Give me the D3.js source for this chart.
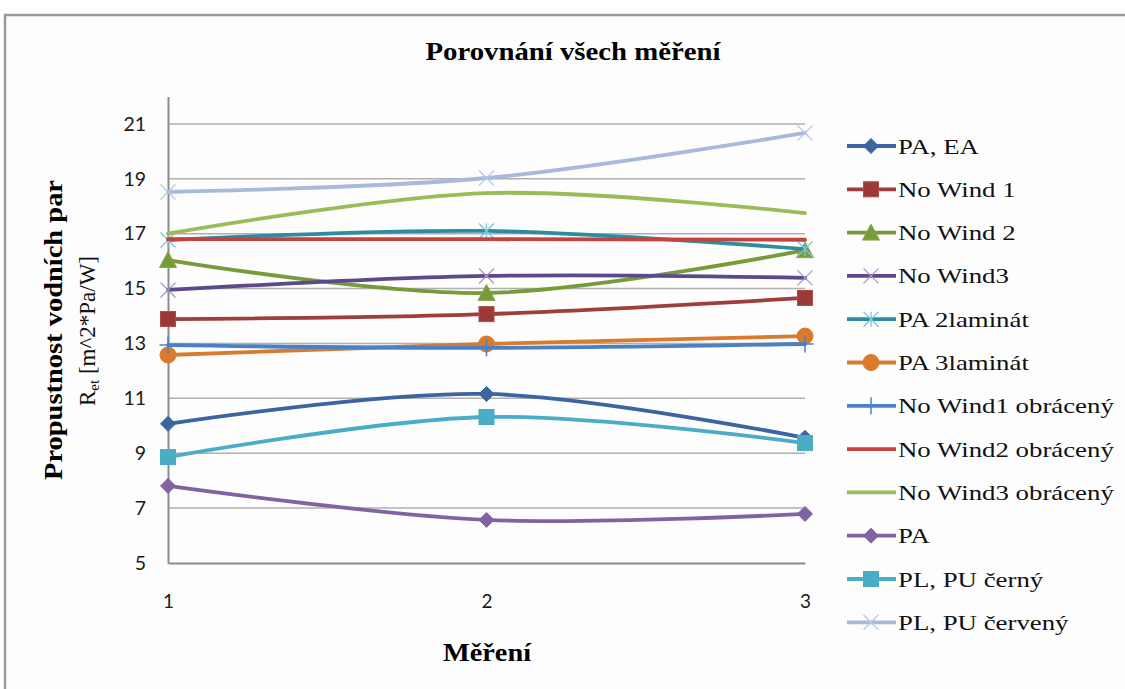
<!DOCTYPE html>
<html>
<head>
<meta charset="utf-8">
<script src="https://cdn.jsdelivr.net/npm/d3@7"></script>
<style>
  html, body { margin: 0; padding: 0; background: #ffffff; }
  svg { display: block; }
  .serif { font-family: "Liberation Serif", "Times New Roman", "DejaVu Serif", serif; }
</style>
</head>
<body>
<svg id="chart" width="1125" height="689"></svg>
<script>
// Measurement rounds on the x axis
const measurements = [1, 2, 3];

// Series names in legend order
const seriesNames = [
  "PA, EA", "No Wind 1", "No Wind 2", "No Wind3", "PA 2laminát", "PA 3laminát",
  "No Wind1 obrácený", "No Wind2 obrácený", "No Wind3 obrácený", "PA",
  "PL, PU černý", "PL, PU červený"
];

// Ret values for each series, one per measurement
const paEa            = [10.07, 11.16, 9.56];
const noWind1         = [13.89, 14.07, 14.66];
const noWind2         = [16.04, 14.84, 16.40];
const noWind3         = [14.95, 15.46, 15.39];
const pa2laminat      = [16.77, 17.10, 16.44];
const pa3laminat      = [12.58, 12.98, 13.27];
const noWind1Obraceny = [12.94, 12.84, 12.98];
const noWind2Obraceny = [16.80, 16.80, 16.78];
const noWind3Obraceny = [17.00, 18.48, 17.75];
const pa              = [7.81, 6.57, 6.79];
const plPuCerny       = [8.86, 10.32, 9.37];
const plPuCerveny     = [18.52, 19.03, 20.67];

const seriesValues = [
  paEa, noWind1, noWind2, noWind3, pa2laminat, pa3laminat,
  noWind1Obraceny, noWind2Obraceny, noWind3Obraceny, pa, plPuCerny, plPuCerveny
];

// Y axis tick labels
const yTicks = [5, 7, 9, 11, 13, 15, 17, 19, 21];

// Line colour, marker type, marker fill and marker stroke per series
const lineColors   = ["#3c64a0", "#a03e3b", "#779a3a", "#5d4989", "#2e8ca1", "#d97a2c",
                      "#4a80c4", "#c4433f", "#9bbb59", "#8064a2", "#4bacc6", "#a7b9dc"];
const markerTypes  = ["diamond", "square", "triangle", "x", "star", "circle",
                      "plus", "none", "none", "diamond", "square", "x"];
const markerFills  = ["#3c64a0", "#9a3a37", "#779a3a", "none", "none", "#d97a2c",
                      "none", "none", "none", "#8064a2", "#4bacc6", "none"];
const markerStroke = ["#3c64a0", "#b04a46", "#86aa45", "#a696c8", "#7fc4d8", "#d97a2c",
                      "#4a80c4", "none", "none", "#8064a2", "#4bacc6", "#b9c8e6"];

const svg = d3.select("#chart");

// Chart frame
svg.append("rect")
  .attr("x", 5).attr("y", 15).attr("width", 1130).attr("height", 690)
  .attr("fill", "#fdfdfd").attr("stroke", "#9a9a9a").attr("stroke-width", 2.5);

const x = d3.scalePoint().domain(measurements).range([168, 805]);
const y = d3.scaleLinear().domain([5, 22]).range([563, 96.5]);

// Horizontal gridlines
svg.append("g")
  .selectAll("line")
  .data(yTicks.filter(t => t > 5))
  .join("line")
  .attr("x1", x(1)).attr("x2", x(3))
  .attr("y1", d => y(d)).attr("y2", d => y(d))
  .attr("stroke", "#b0b0b0").attr("stroke-width", 1.5);

// Y axis
const yAxis = svg.append("g")
  .attr("transform", `translate(${x(1)},0)`)
  .call(d3.axisLeft(y).tickValues(yTicks).tickSize(0).tickPadding(22).tickFormat(d3.format("d")));
yAxis.select(".domain").attr("stroke", "#8c8c8c").attr("stroke-width", 2);
yAxis.selectAll("text")
  .attr("font-family", "Lato, 'Open Sans', sans-serif")
  .attr("font-size", 19.5).attr("fill", "#1a1a1a");

// X axis
const xAxis = svg.append("g")
  .attr("transform", `translate(0,${y(5)})`)
  .call(d3.axisBottom(x).tickSize(0).tickPadding(32).tickFormat(d3.format("d")));
xAxis.select(".domain").attr("stroke", "#8c8c8c").attr("stroke-width", 2);
xAxis.selectAll("text")
  .attr("font-family", "Lato, 'Open Sans', sans-serif")
  .attr("font-size", 19).attr("fill", "#1a1a1a");

// Marker drawing
function drawMarker(g, type, cx, cy, fill, stroke) {
  const s = 7.5;
  if (type === "diamond") {
    g.append("path")
      .attr("d", `M${cx},${cy - s}L${cx + s},${cy}L${cx},${cy + s}L${cx - s},${cy}Z`)
      .attr("fill", fill).attr("stroke", stroke).attr("stroke-width", 1);
  } else if (type === "square") {
    g.append("rect")
      .attr("x", cx - s).attr("y", cy - s).attr("width", 2 * s).attr("height", 2 * s)
      .attr("fill", fill).attr("stroke", stroke).attr("stroke-width", 1);
  } else if (type === "triangle") {
    g.append("path")
      .attr("d", `M${cx},${cy - s - 1}L${cx + s + 1},${cy + s}L${cx - s - 1},${cy + s}Z`)
      .attr("fill", fill).attr("stroke", stroke).attr("stroke-width", 1);
  } else if (type === "circle") {
    g.append("circle")
      .attr("cx", cx).attr("cy", cy).attr("r", s + 0.5)
      .attr("fill", fill).attr("stroke", stroke).attr("stroke-width", 1);
  } else if (type === "x" || type === "star") {
    g.append("path")
      .attr("d", `M${cx - s},${cy - s}L${cx + s},${cy + s}M${cx - s},${cy + s}L${cx + s},${cy - s}` +
                 (type === "star" ? `M${cx},${cy - s}L${cx},${cy + s}` : ""))
      .attr("fill", "none").attr("stroke", stroke).attr("stroke-width", 1.3);
  } else if (type === "plus") {
    g.append("path")
      .attr("d", `M${cx},${cy - s - 1}L${cx},${cy + s + 1}M${cx - s - 1},${cy}L${cx + s + 1},${cy}`)
      .attr("fill", "none").attr("stroke", stroke).attr("stroke-width", 1.5);
  }
}

// Smoothed series lines with markers
const line = d3.line()
  .x((d, i) => x(measurements[i]))
  .y(d => y(d))
  .curve(d3.curveCardinal.tension(0));

const plot = svg.append("g");
seriesValues.forEach((vals, si) => {
  const g = plot.append("g");
  g.append("path")
    .attr("d", line(vals))
    .attr("fill", "none")
    .attr("stroke", lineColors[si])
    .attr("stroke-width", 3.8)
    .attr("stroke-linecap", "round");
  vals.forEach((v, i) => {
    drawMarker(g, markerTypes[si], x(measurements[i]), y(v), markerFills[si], markerStroke[si]);
  });
});

// Legend
const legend = svg.append("g");
const legendTexts = [];
seriesNames.forEach((name, i) => {
  const ly = 146 + i * 43.3;
  const g = legend.append("g");
  g.append("line")
    .attr("x1", 847).attr("x2", 896).attr("y1", ly).attr("y2", ly)
    .attr("stroke", lineColors[i]).attr("stroke-width", 3.8);
  drawMarker(g, markerTypes[i], 871, ly, markerFills[i], markerStroke[i]);
  legendTexts.push(g.append("text")
    .attr("class", "serif")
    .attr("x", 0).attr("y", 0)
    .attr("transform", `translate(898,${ly + 7.5})`)
    .attr("font-size", 22).attr("fill", "#111")
    .text(name));
});
// Widen legend labels so the longest one spans the space up to the right edge
const widest = d3.max(legendTexts, t => t.node().getComputedTextLength());
const sx = widest > 0 ? 216 / widest : 1;
legendTexts.forEach(t => {
  t.attr("transform", t.attr("transform") + ` scale(${sx},1)`);
});

// Chart title
svg.append("text")
  .attr("class", "serif")
  .attr("x", 573).attr("y", 60)
  .attr("text-anchor", "middle")
  .attr("font-weight", "bold").attr("font-size", 26)
  .attr("textLength", 295).attr("lengthAdjust", "spacingAndGlyphs")
  .text("Porovnání všech měření");

// X axis title
svg.append("text")
  .attr("class", "serif")
  .attr("x", 487).attr("y", 661)
  .attr("text-anchor", "middle")
  .attr("font-weight", "bold").attr("font-size", 26)
  .attr("textLength", 88).attr("lengthAdjust", "spacingAndGlyphs")
  .text("Měření");

// Y axis title, two lines
svg.append("text")
  .attr("class", "serif")
  .attr("transform", "translate(62,330) rotate(-90)")
  .attr("text-anchor", "middle")
  .attr("font-weight", "bold").attr("font-size", 26)
  .attr("textLength", 300).attr("lengthAdjust", "spacingAndGlyphs")
  .text("Propustnost vodních par");

const yt2 = svg.append("text")
  .attr("class", "serif")
  .attr("transform", "translate(95,331) rotate(-90)")
  .attr("text-anchor", "middle")
  .attr("font-size", 23).attr("fill", "#111");
yt2.append("tspan").text("R");
yt2.append("tspan").attr("font-size", 15).attr("dy", 4).text("et");
yt2.append("tspan").attr("dy", -4).text(" [m^2*Pa/W]");
</script>
</body>
</html>
